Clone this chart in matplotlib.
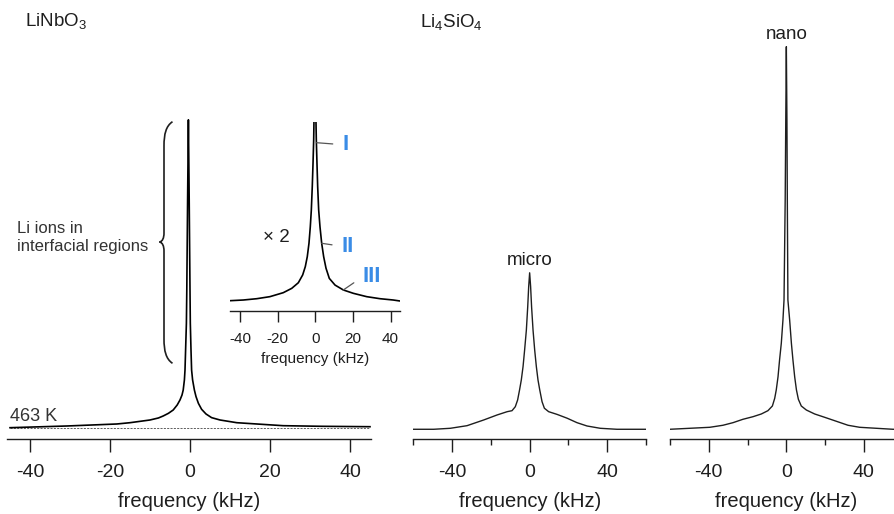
import matplotlib
matplotlib.use("Agg")
import matplotlib.pyplot as plt
from matplotlib.path import Path
from matplotlib.patches import PathPatch

plt.rcParams["font.family"] = ["Liberation Sans", "DejaVu Sans"]
plt.rcParams["mathtext.default"] = "regular"
plt.rcParams["axes.unicode_minus"] = False

W, H = 894, 514

# LiNbO3 spectrum at 463 K (arbitrary intensity, peak = 100)
freq_linbo = [-45, -30.8, -18.3, -15, -12.5, -10, -7.9, -6.7, -5.4, -4.2,
              -3.2, -2.5, -2.0, -1.7, -1.4, -1.25, -1.1, -0.9, -0.8, -0.6,
              -0.4, -0.2, 0, 0.08, 0.25, 0.4, 0.65, 1.1, 1.5, 2.1,
              2.9, 4.0, 5.4, 7.5, 11.7, 16.7, 23.3, 33, 45]
int_linbo = [0.1, 0.65, 1.3, 1.72, 2.16, 2.6, 3.25, 3.9, 4.76, 5.84,
             7.47, 9.1, 10.7, 12.3, 15.6, 18.8, 25.3, 34.0, 44.8, 74,
             100, 74, 44.8, 34.0, 25.3, 18.8, 15.6, 12.3, 10.2, 8.0,
             6.07, 4.55, 3.36, 2.6, 1.72, 1.3, 0.75, 0.55, 0.42]

# same spectrum, vertically expanded (x 2) for the inset
freq_zoom = [-45.3, -38.2, -31.1, -24.1, -17.0, -12.5, -9.0, -6.7, -5.3, -4.25,
             -3.35, -2.65, -2.1, -1.6, -1.2, -0.85, -0.7, -0.15,
             0.37, 0.55, 0.9, 1.27, 1.8, 2.5, 3.4, 4.45, 5.7, 7.45,
             10.5, 14.9, 20.2, 27.3, 34.4, 41.4, 45.0]
int_zoom = [0.17, 0.55, 1.27, 2.4, 4.6, 7.0, 10.1, 14.4, 19.0, 24.5,
            31.9, 41.0, 50.3, 63.2, 76.1, 89, 99, 115,
            99, 89, 76.1, 63.2, 50.3, 41.0, 31.9, 24.5, 18.1, 12.5,
            8.8, 6.1, 4.25, 2.4, 1.27, 0.55, 0.0]

# Li4SiO4, microcrystalline and nanocrystalline (nano peak = 100)
freq_micro = [-60, -49.5, -40.9, -32.3, -23.7, -16.8, -11.6, -9.1, -7.4, -6.2,
              -5.2, -4.3, -3.4, -2.6, -1.7, -1.0, -0.5, 0,
              0.5, 1.0, 1.75, 2.6, 3.45, 4.3, 5.2, 6.4, 7.6, 9.8,
              14.1, 19.3, 24.4, 29.6, 36.4, 45, 60]
int_micro = [0, 0, 0.26, 0.94, 2.43, 3.74, 4.6, 4.86, 5.9, 7.66,
             10.3, 12.9, 16.4, 20.7, 25.9, 32.0, 37.3, 40.9,
             37.3, 32.0, 25.9, 20.7, 16.4, 12.9, 10.3, 7.2, 5.5, 4.6,
             3.9, 2.9, 1.73, 0.86, 0.26, 0, 0]

freq_nano = [-60.1, -49.8, -39.5, -32.7, -27.5, -22.4, -17.2, -12.9, -9.5, -7.2,
             -6.0, -5.2, -4.3, -3.5, -2.6, -1.75, -1.2, -0.6, -0.3, 0,
             0.3, 0.5, 0.8, 1.7, 2.6, 3.4, 4.3, 5.2, 6.2, 7.7,
             10.3, 14.6, 19.7, 25.8, 31.8, 37.8, 46.4, 55, 60]
int_nano = [0, 0.26, 0.52, 1.05, 1.73, 2.61, 3.29, 4.0, 4.86, 6.09,
            8.1, 10.3, 13.7, 18.1, 22.5, 28.6, 33.8, 59.9, 80.9, 100,
            80.9, 59.9, 33.8, 28.6, 22.5, 18.1, 13.7, 10.3, 7.84, 6.09,
            5.04, 4.0, 3.14, 2.09, 1.05, 0.52, 0.26, 0, 0]

ink = "#1e1e1e"
blue = "#3a8ce6"

fig = plt.figure(figsize=(W / 100, H / 100), dpi=100)


def fx(x):
    return x / W


def fy(y):
    return 1 - y / H


def px_axes(left, right, spine_y, top_y):
    return fig.add_axes([left / W, 1 - spine_y / H, (right - left) / W, (spine_y - top_y) / H])


def style(ax, size, length, pad):
    for s in ["top", "left", "right"]:
        ax.spines[s].set_visible(False)
    ax.spines["bottom"].set_color(ink)
    ax.spines["bottom"].set_linewidth(1.0)
    ax.set_yticks([])
    ax.patch.set_alpha(0)
    ax.tick_params(axis="x", which="major", direction="out", length=length, width=1.0,
                   color=ink, labelsize=size, labelcolor=ink, pad=pad)


# --- LiNbO3 main panel ---
ax1 = px_axes(7, 371, 439, 110)
ax1.set_xlim(-45.75, 45.25)
ax1.set_ylim(-3.57, 103.2)
ax1.axhline(0, color="#444444", lw=0.6, ls=(0, (2.5, 1.5)), xmin=0.008, xmax=0.995)
ax1.plot(freq_linbo, int_linbo, color="black", lw=1.2)
style(ax1, 14, 9.4, 8.5)
ax1.set_xticks([-40, -20, 0, 20, 40])
ax1.set_xlabel("frequency (kHz)", fontsize=14.5, color=ink, labelpad=8)

# --- inset ---
ax2 = px_axes(230, 400, 310.7, 121.7)
ax2.set_xlim(-45.3, 45.0)
ax2.set_ylim(-5.36, 99.1)
ax2.plot(freq_zoom, int_zoom, color="black", lw=1.2)
style(ax2, 11, 8, 7.5)
ax2.set_xticks([-40, -20, 0, 20, 40])
ax2.set_xlabel("frequency (kHz)", fontsize=11, color=ink, labelpad=4)

leader = dict(arrowstyle="-", color="#555555", lw=0.9, shrinkA=5, shrinkB=0, relpos=(0, 0.5))
for label, xy, off in [("I", (0.62, 87.5), (26, -2)),
                       ("II", (3.4, 31.9), (20, -3)),
                       ("III", (14.9, 6.1), (19, 13))]:
    ax2.annotate(label, xy=xy, xytext=off, textcoords="offset pixels",
                 ha="left", va="center", fontsize=16, fontweight="bold", color=blue,
                 arrowprops=leader, annotation_clip=False)

# --- Li4SiO4 panels ---
for left, fr, it, name in [(413.3, freq_micro, int_micro, "micro"),
                           (670, freq_nano, int_nano, "nano")]:
    ax = px_axes(left, left + 232.7, 439, 40)
    ax.set_xlim(-60, 60)
    ax.set_ylim(-2.54, 101.75)
    ax.plot(fr, it, color=ink, lw=1.0)
    style(ax, 14, 9.4, 8.5)
    ax.set_xticks([-40, 0, 40])
    ax.set_xticks([-60, -20, 20, 60], minor=True)
    ax.tick_params(axis="x", which="minor", direction="out", length=4.3, width=1.0, color=ink)
    ax.set_xlabel("frequency (kHz)", fontsize=14.5, color=ink, labelpad=8)
    ax.annotate(name, xy=(0, max(it)), xytext=(0, 4), textcoords="offset pixels",
                ha="center", va="bottom", fontsize=13.5, color=ink)

# --- labels ---
fig.text(fx(25), fy(26), "LiNbO$_3$", fontsize=13.5, color=ink, va="baseline")
fig.text(fx(420), fy(26.7), "Li$_4$SiO$_4$", fontsize=13.5, color=ink, va="baseline")
fig.text(fx(10), fy(420.7), "463 K", fontsize=13, color="#333333", va="baseline")
fig.text(fx(16.7), fy(233.3), "Li ions in", fontsize=12, color="#333333", va="baseline")
fig.text(fx(16.7), fy(250.5), "interfacial regions", fontsize=12, color="#333333", va="baseline")
fig.text(fx(263), fy(242.3), "\u00d7 2", fontsize=13.5, color=ink, va="baseline")

# curly brace beside the narrow line
verts = [(172.5, 121.7), (166, 126), (164, 134), (164, 146),
         (164, 233),
         (164, 238), (162.5, 241.5), (159.5, 242),
         (162.5, 242.5), (164, 246), (164, 251),
         (164, 339),
         (164, 351), (166, 359), (172.5, 363.3)]
codes = [Path.MOVETO, Path.CURVE4, Path.CURVE4, Path.CURVE4,
         Path.LINETO,
         Path.CURVE4, Path.CURVE4, Path.CURVE4,
         Path.CURVE4, Path.CURVE4, Path.CURVE4,
         Path.LINETO,
         Path.CURVE4, Path.CURVE4, Path.CURVE4]
brace = Path([(fx(x), fy(y)) for x, y in verts], codes)
fig.add_artist(PathPatch(brace, transform=fig.transFigure, fill=False, lw=1.2, edgecolor=ink))

fig.savefig("out.png", dpi=100)
